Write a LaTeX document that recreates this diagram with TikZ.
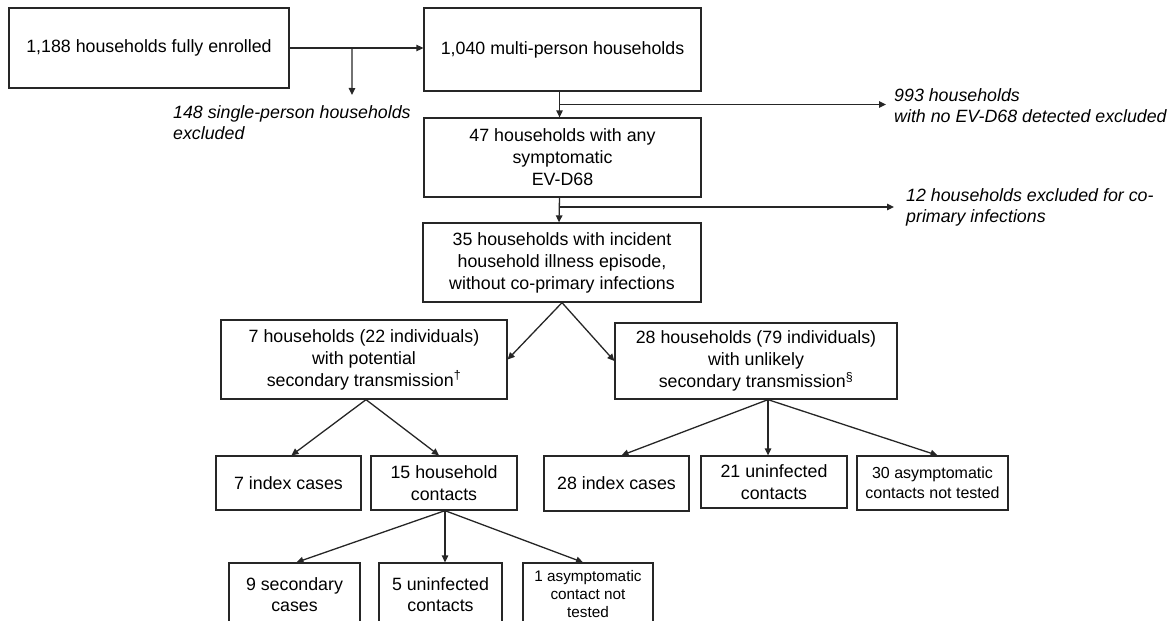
\documentclass[tikz,border=0pt]{standalone}
\usepackage{fontspec}
\setmainfont{Liberation Sans}
\usetikzlibrary{arrows.meta,calc}
\begin{document}
\begin{tikzpicture}[x=1pt,y=-1pt,
  box/.style={draw=black!85, line width=1.3pt, inner sep=0pt, align=center,
              font=\fontsize{17.8}{22}\selectfont},
  lab/.style={inner sep=0pt, align=left, anchor=west,
              font=\fontsize{17.8}{21}\selectfont\itshape},
  arr/.style={draw=black!85, line width=1.3pt, -{Triangle[length=7pt,width=6.5pt]}},
  ln/.style={draw=black!85, line width=1.3pt}]
\useasboundingbox (0,0) rectangle (1176,621);
\clip (0,0) rectangle (1176,621);

% main column
\node[box, minimum width=280pt, minimum height=80pt] (A) at (149,48) {1,188 households fully enrolled};
\node[box, minimum width=277pt, minimum height=83pt] (B) at (562.5,49.5) {1,040 multi-person households};
\node[box, minimum width=277pt, minimum height=79pt] (C) at (562.5,157.5) {47 households with any\\symptomatic\\EV-D68};
\node[box, minimum width=278pt, minimum height=79pt] (D) at (562,262.5) {35 households with incident\\household illness episode,\\without co-primary infections};

% exclusion labels
\node[lab] (L148) at (173,122.5) {148 single-person households\\excluded};
\node[lab] (L993) at (894,106) {993 households\\with no EV-D68 detected excluded};
\node[lab] (L12) at (906,207) {12 households excluded for co-\\primary infections};

% second level
\node[box, minimum width=286pt, minimum height=79pt] (E) at (364,359.5) {7 households (22 individuals)\\with potential\\secondary transmission\textsuperscript{†}};
\node[box, minimum width=282pt, minimum height=76pt] (F) at (756,361) {28 households (79 individuals)\\with unlikely\\secondary transmission\textsuperscript{§}};

% third level
\node[box, minimum width=145pt, minimum height=54pt] (I7) at (288.5,483) {7 index cases};
\node[box, minimum width=146pt, minimum height=54pt] (H15) at (444,483) {15 household\\contacts};
\node[box, minimum width=145pt, minimum height=55pt] (I28) at (616.5,483.5) {28 index cases};
\node[box, minimum width=146pt, minimum height=52pt] (U21) at (774,482) {21 uninfected\\contacts};
\node[box, minimum width=151pt, minimum height=54pt, font=\fontsize{16}{20}\selectfont] (N30) at (932.5,483) {30 asymptomatic\\contacts not tested};

% fourth level
\node[box, minimum width=131pt, minimum height=63pt, font=\fontsize{17.8}{21}\selectfont] (S9) at (294.5,594.5) {9 secondary\\cases};
\node[box, minimum width=123pt, minimum height=63pt, font=\fontsize{17.8}{21}\selectfont] (U5) at (440.5,594.5) {5 uninfected\\contacts};
\node[box, minimum width=130pt, minimum height=63pt, font=\fontsize{15.3}{18}\selectfont] (N1) at (588,594.5) {1 asymptomatic\\contact not\\tested};

% connectors: top row
\draw[arr] (A.east) -- (A.east -| B.west);
\path (A.east) -- (A.east -| B.west) coordinate[pos=0.467] (a1);
\coordinate (t148) at (352,95);
\draw[arr] (a1) -- (t148);

\draw[arr] ([xshift=-3pt]B.south) -- ([xshift=-3pt]C.north);
\coordinate (b1) at ($([xshift=-3pt]B.south)!0.5!([xshift=-3pt]C.north)$);
\draw[arr, shorten >=8pt] (b1) -- (b1 -| L993.west);

\draw[arr] ([xshift=-3pt]C.south) -- ([xshift=-3pt]D.north);
\coordinate (c1) at ($([xshift=-3pt]C.south)!0.38!([xshift=-3pt]D.north)$);
\draw[arr, shorten >=12pt] (c1) -- (c1 -| L12.west);

% D to second level
\draw[arr] (D.south) -- (E.east);
\draw[arr] (D.south) -- (F.west);

% E to its children
\draw[arr] ([xshift=2pt]E.south) -- ([xshift=3pt]I7.north);
\draw[arr] ([xshift=2pt]E.south) -- ([xshift=-5pt]H15.north);

% F to its children
\coordinate (f1) at ([xshift=12pt]F.south);
\draw[arr] (f1) -- ([xshift=5pt]I28.north);
\draw[arr] (f1) -- (f1 |- U21.north);
\draw[arr] (f1) -- ([xshift=5pt]N30.north);

% H15 to its children
\coordinate (h1) at ([xshift=1pt]H15.south);
\draw[arr] (h1) -- ([xshift=2pt]S9.north);
\draw[arr] (h1) -- (h1 |- U5.north);
\draw[arr] (h1) -- ([xshift=-5pt]N1.north);
\end{tikzpicture}
\end{document}
